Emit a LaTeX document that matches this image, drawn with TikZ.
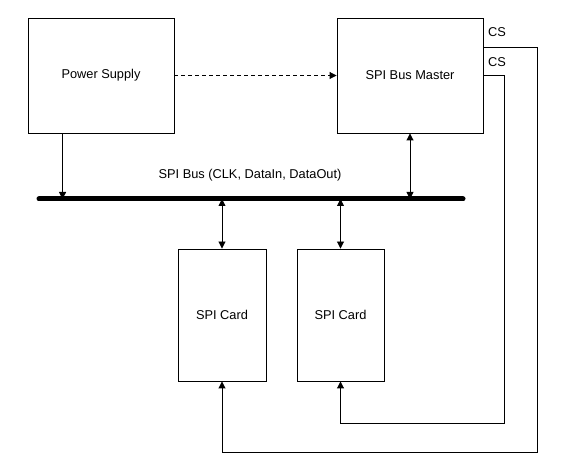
\documentclass[tikz,border=0pt]{standalone}
\usepackage{fontspec}
\setmainfont{Liberation Sans}
\usetikzlibrary{arrows.meta,calc}
\begin{document}
\begin{tikzpicture}[x=1pt,y=-1pt,
  box/.style={draw,line width=0.9pt,inner sep=0pt,font=\fontsize{12.8}{15}\selectfont},
  lbl/.style={font=\fontsize{12.8}{15}\selectfont,inner sep=0pt},
  conn/.style={line width=0.9pt,-{Triangle[length=7pt,width=7pt]}},
  bidir/.style={line width=0.9pt,{Triangle[length=7pt,width=7pt]}-{Triangle[length=7pt,width=7pt]}}]
\useasboundingbox (0,0) rectangle (571,465);
\node[box,minimum width=146pt,minimum height=115pt] (ps) at (101,75.5) {Power Supply};
\node[box,minimum width=146pt,minimum height=115pt] (master) at (410,75.5) {SPI Bus Master};
\node[box,minimum width=88pt,minimum height=132pt] (card1) at (222,315) {SPI Card};
\node[box,minimum width=87pt,minimum height=132pt] (card2) at (340.5,315) {SPI Card};
\coordinate (busL) at (39,199);
\coordinate (busR) at (463,199);
\coordinate (low1) at (0,452);
\coordinate (low2) at (0,423);
\draw[line width=5pt,line cap=round] (busL) -- (busR);
\node[lbl] (buslbl) at (250,175) {SPI Bus (CLK, DataIn, DataOut)};
\node[lbl,anchor=west] (cs1) at (488,32) {CS};
\node[lbl,anchor=west] (cs2) at (488,62) {CS};
\draw[conn,dash pattern=on 4pt off 3pt] (ps.east) -- (master.west);
\draw[conn] ($(ps.south west)+(35,0)$) coordinate (psb) -- (psb |- busL);
\draw[bidir] (master.south) -- (master.south |- busL);
\draw[bidir] (card1.north |- busL) -- (card1.north);
\draw[bidir] (card2.north |- busL) -- (card2.north);
\coordinate (m1) at ($(master.north east)+(0,30)$);
\draw[conn] (m1) -- ++(54,0) coordinate (r1) -- (r1 |- low1) -| (card1.south);
\draw[conn] (master.east) -- ++(21,0) coordinate (r2) -- (r2 |- low2) -| (card2.south);
\end{tikzpicture}
\end{document}
